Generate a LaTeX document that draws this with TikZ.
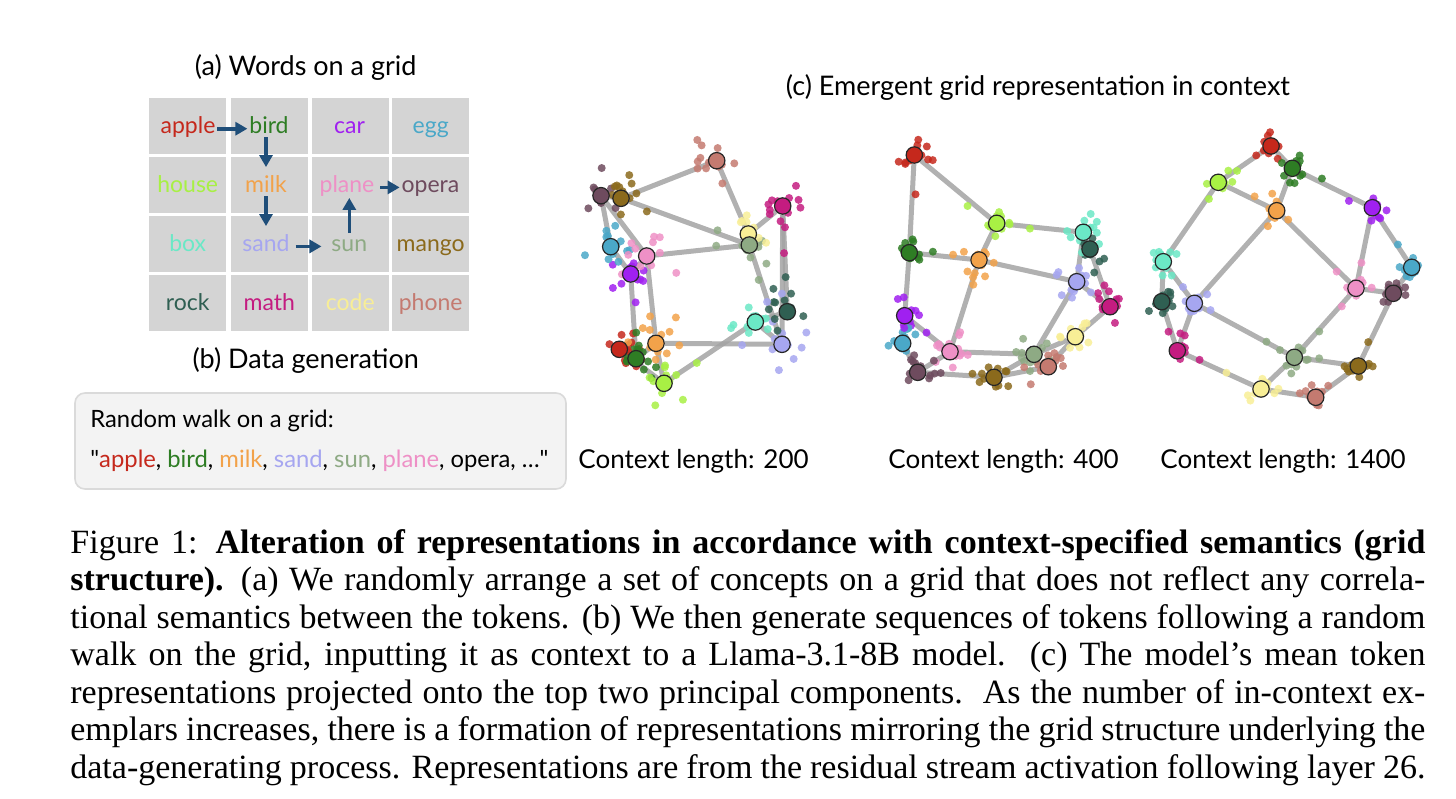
\documentclass[tikz,border=0pt]{standalone}
\usepackage{fontspec}
\setmainfont{Liberation Serif}
\newfontfamily\figfont{Lato}
\usetikzlibrary{calc,arrows.meta}
\pgfdeclarelayer{back}\pgfdeclarelayer{front}
\pgfsetlayers{back,main,front}
\definecolor{capple}{HTML}{C5281C}
\definecolor{cbird}{HTML}{2E7D24}
\definecolor{ccar}{HTML}{A020F0}
\definecolor{cegg}{HTML}{4AA8C8}
\definecolor{chouse}{HTML}{A8F044}
\definecolor{cmilk}{HTML}{F2A24A}
\definecolor{cplane}{HTML}{EE90C6}
\definecolor{copera}{HTML}{6E4B5E}
\definecolor{cbox}{HTML}{6BE8C6}
\definecolor{csand}{HTML}{A6A6F0}
\definecolor{csun}{HTML}{8EAA84}
\definecolor{cmango}{HTML}{8B6A1C}
\definecolor{crock}{HTML}{2F5F52}
\definecolor{cmath}{HTML}{C41C80}
\definecolor{ccode}{HTML}{F8EE96}
\definecolor{cphone}{HTML}{C47A70}
\definecolor{arrowblue}{HTML}{1F4E79}
\definecolor{cellgray}{HTML}{D4D4D4}
\definecolor{boxbg}{HTML}{F3F3F3}
\definecolor{boxline}{HTML}{DADADA}
\newcommand\gridedges{apple/bird,bird/car,car/egg,house/milk,milk/plane,plane/opera,box/sand,sand/sun,sun/mango,rock/math,math/code,code/phone,apple/house,house/box,box/rock,bird/milk,milk/sand,sand/math,car/plane,plane/sun,sun/code,egg/opera,opera/mango,mango/phone}
\newcommand\allwords{apple,bird,car,egg,house,milk,plane,opera,box,sand,sun,mango,rock,math,code,phone}
% #1 prefix, #2 node list, #3 spread, #4 dots per node
\newcommand\drawplot[4]{%
  \begin{pgfonlayer}{front}
    \foreach \n/\px/\py in {#2}{\node[big, fill=c\n] (#1\n) at (\px,\py) {};}
  \end{pgfonlayer}
  \begin{pgfonlayer}{back}
    \foreach \a/\b in \gridedges {\draw[edge] (#1\a) -- (#1\b);}
  \end{pgfonlayer}
  \foreach \n in \allwords {%
    \foreach \k in {1,...,#4}{%
      \pgfmathsetmacro\dx{(rand+rand+rand)*#3}%
      \pgfmathsetmacro\dy{(rand+rand+rand)*#3}%
      \fill[c\n, dot] ($(#1\n)+(\dx,\dy)$) circle[radius=4];
    }}%
  \foreach \a/\b in \gridedges {%
    \pgfmathsetmacro\ta{0.12+0.3*rnd}%
    \pgfmathsetmacro\tb{0.12+0.3*rnd}%
    \pgfmathsetmacro\jx{rand*4}%
    \pgfmathsetmacro\jy{rand*4}%
    \fill[c\a, dot] ($(#1\a)!\ta!(#1\b)+(\jx,\jy)$) circle[radius=4];
    \fill[c\b, dot] ($(#1\b)!\tb!(#1\a)+(\jy,\jx)$) circle[radius=4];
  }%
}
\begin{document}
\begin{tikzpicture}[x=0.5pt,y=-0.5pt,
  big/.style={circle, draw=black!85, line width=0.6pt, minimum size=8.2pt, inner sep=0pt},
  edge/.style={line width=2.5pt, draw=black!36, opacity=0.85},
  dot/.style={opacity=.85},
  word/.style={font=\figfont\fontsize{11.5}{13}\selectfont, inner sep=0.8pt, anchor=base},
  boxtext/.style={font=\figfont\fontsize{11.9}{13}\selectfont, inner sep=0pt, anchor=base west},
  title/.style={font=\figfont\fontsize{13.5}{15}\selectfont, inner sep=0pt, anchor=base},
  ctx/.style={font=\figfont\fontsize{13}{15}\selectfont, inner sep=0pt, anchor=base west},
  walk/.style={draw=arrowblue, line width=1.8pt, -{Triangle[length=6pt,width=6.5pt]}},
  capline/.style={font=\fontsize{17}{18.75}\selectfont, inner sep=0pt, anchor=base west}]
\useasboundingbox (0,0) rectangle (1456,798);
\pgfmathsetseed{11}
% ---------- (a) grid ----------
\node[title] (ta) at (305.7,75) {(a) Words on a grid};
\foreach \cx in {149.3,231,312.3,392.3}{
  \foreach \cy in {98.3,156.7,215.7,275}{
    \fill[cellgray] (\cx,\cy) rectangle ++(76.7,56);
  }}
\node[word, text=capple] (wapple) at (188,133.3) {apple};
\node[word, text=cbird]  (wbird)  at (269,133.3) {bird};
\node[word, text=ccar]   (wcar)   at (349.5,133.3) {car};
\node[word, text=cegg]   (wegg)   at (430.7,133.3) {egg};
\node[word, text=chouse] (whouse) at (187.7,192) {house};
\node[word, text=cmilk]  (wmilk)  at (266,192) {milk};
\node[word, text=cplane] (wplane) at (347,192) {plane};
\node[word, text=copera] (wopera) at (430.5,192) {opera};
\node[word, text=cbox]   (wbox)   at (187.7,251) {box};
\node[word, text=csand]  (wsand)  at (266,251) {sand};
\node[word, text=csun]   (wsun)   at (349.3,251) {sun};
\node[word, text=cmango] (wmango) at (430.7,251) {mango};
\node[word, text=crock]  (wrock)  at (187.7,310) {rock};
\node[word, text=cmath]  (wmath)  at (269.3,310) {math};
\node[word, text=ccode]  (wcode)  at (350.3,310) {code};
\node[word, text=cphone] (wphone) at (430.7,310) {phone};
\draw[walk] (wapple.mid east) -- (wbird.mid west);
\draw[walk] ([yshift=-1pt]wbird.south -| 266,0) -- ([yshift=3pt]wmilk.north -| 266,0);
\draw[walk] ([yshift=-1pt]wmilk.south -| 266,0) -- ([yshift=3pt]wsand.north -| 266,0);
\draw[walk] ([xshift=2pt]wsand.mid east) -- ([xshift=-4pt]wsun.mid west);
\draw[walk] ([yshift=2pt]wsun.north -| 349.3,0) -- (wplane.south -| 349.3,0);
\draw[walk] ([xshift=2pt]wplane.mid east) -- (wopera.mid west);
% ---------- (b) ----------
\node[title] (tb) at (305.7,368.5) {(b) Data generation};
\draw[fill=boxbg, draw=boxline, line width=0.8pt, rounded corners=5pt] (75,393) rectangle (566,489);
\node[boxtext] (b1) at (90,427) {Random walk on a grid:};
\node[boxtext] (b2) at (90,467) {"\textcolor{capple}{apple}, \textcolor{cbird}{bird}, \textcolor{cmilk}{milk}, \textcolor{csand}{sand}, \textcolor{csun}{sun}, \textcolor{cplane}{plane}, opera, \ldots"};
% ---------- (c) ----------
\node[title] (tc) at (1038,95) {(c) Emergent grid representation in context};
\drawplot{p}{phone/716.7/160.7, opera/601/195.7, mango/621/198.3, egg/610.7/246.7, plane/646.7/256, car/630.7/274, code/748.3/234, sun/749.3/245, math/782.7/206, rock/787.3/311.7, box/755.3/322, sand/782/344.3, milk/656/343.3, apple/619.3/349.3, bird/636/358.7, house/664/383.3}{11}{10}
\drawplot{q}{apple/914.3/155, house/996.7/223.3, box/1083.3/232.3, rock/1090/249, bird/909.3/252.7, milk/979/260, sand/1076.7/281.7, math/1110/306.7, car/904.7/315.7, egg/902.7/343.3, code/1075.3/336.7, plane/950/351.7, sun/1034/354.3, phone/1048.3/366.7, opera/917.7/372.3, mango/994/377.3}{8}{10}
\drawplot{r}{apple/1271/146, bird/1292.3/168.3, house/1218.3/182.3, milk/1276.7/210.7, car/1372.3/207.7, box/1163.3/261.7, egg/1411.7/267.3, plane/1356/288.3, opera/1393.3/293.3, rock/1161.7/301.7, sand/1194.3/303.3, math/1177.3/350.7, sun/1294.3/357.3, mango/1358.3/366, code/1261/389, phone/1315.7/397.3}{6.5}{10}
\node[ctx] (l1) at (578,468) {Context length: 200};
\node[ctx] (l2) at (888,468) {Context length: 400};
\node[ctx] (l3) at (1160,468) {Context length: 1400};
% ---------- caption ----------
\node[capline] (c1) at (70,553) {\hbox to 677.5pt{Figure 1: {\bfseries Alteration of representations in accordance with context-specified semantics (grid}}};
\node[capline] (c2) at (70,590.5) {\hbox to 677.5pt{{\bfseries structure).} (a) We randomly arrange a set of concepts on a grid that does not reflect any correla-}};
\node[capline] (c3) at (70,628) {\hbox to 677.5pt{tional semantics between the tokens. (b) We then generate sequences of tokens following a random}};
\node[capline] (c4) at (70,665.5) {\hbox to 677.5pt{walk on the grid, inputting it as context to a Llama-3.1-8B model.\ \ (c) The model's mean token}};
\node[capline] (c5) at (70,703) {\hbox to 677.5pt{representations projected onto the top two principal components.\ \ As the number of in-context ex-}};
\node[capline] (c6) at (70,740.5) {\hbox to 677.5pt{emplars increases, there is a formation of representations mirroring the grid structure underlying the}};
\node[capline] (c7) at (70,778) {\hbox to 677.5pt{data-generating process. Representations are from the residual stream activation following layer 26.}};
\end{tikzpicture}
\end{document}
